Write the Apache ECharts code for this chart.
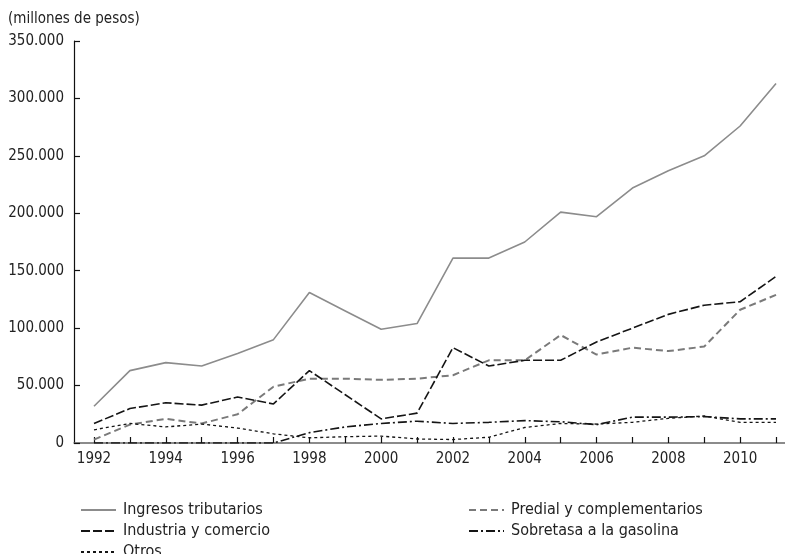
<!DOCTYPE html>
<html>
<head>
<meta charset="utf-8">
<script src="https://cdn.jsdelivr.net/npm/echarts@6/dist/echarts.min.js"></script>
<style>
  html, body { margin: 0; padding: 0; background: #fff; }
  #chart { width: 785px; height: 554px; }
</style>
</head>
<body>
<div id="chart"></div>
<script>
// años y series (millones de pesos)
const years = [1992, 1993, 1994, 1995, 1996, 1997, 1998, 1999, 2000, 2001,
               2002, 2003, 2004, 2005, 2006, 2007, 2008, 2009, 2010, 2011];
const labelYears = [1992, 1994, 1996, 1998, 2000, 2002, 2004, 2006, 2008, 2010];

const ingresos = [32000, 63000, 70000, 67000, 78000, 90000, 131000, 115000, 99000, 104000,
                  161000, 161000, 175000, 201000, 197000, 222000, 237000, 250000, 276000, 313000];
const predial = [3000, 16000, 21000, 17000, 25000, 49000, 56000, 56000, 55000, 56000,
                 59000, 72000, 72000, 94000, 77000, 83000, 80000, 84000, 116000, 129000];
const industria = [17000, 30000, 35000, 33000, 40000, 34000, 63000, 42000, 21000, 26000,
                   83000, 67000, 72000, 72000, 88000, 100000, 112000, 120000, 123000, 145000];
const sobretasa = [0, 0, 0, 0, 0, 0, 9000, 14000, 17000, 19000,
                   17000, 18000, 19500, 18500, 16000, 22500, 22500, 23000, 21000, 21000];
const otros = [11500, 17000, 14000, 16500, 13000, 8000, 4500, 5500, 6000, 3500,
               3000, 5000, 13500, 17000, 16500, 18000, 21500, 23500, 18000, 18000];

const FONT = "'Liberation Sans Narrow', 'DejaVu Sans Condensed', sans-serif";

const pairs = (vals) => years.map((y, i) => [y, vals[i]]);
const fmt = (v) => String(v).replace(/\B(?=(\d{3})+(?!\d))/g, '.');

const mkLine = (name, vals, color, width, dash) => ({
  name: name,
  type: 'line',
  data: pairs(vals),
  symbol: 'none',
  silent: true,
  animation: false,
  lineStyle: { color: color, width: width, type: dash },
  itemStyle: { color: color }
});

// una leyenda por elemento, para colocarlas como en el original
const mkLegend = (name, left, top) => ({
  data: [name],
  left: left, top: top,
  selectedMode: false,
  itemWidth: 35, itemHeight: 12, itemGap: 0,
  itemStyle: { opacity: 0 },
  textStyle: { fontFamily: FONT, fontSize: 16, color: '#222', padding: [0, 0, 0, 2] }
});

const chart = echarts.init(document.getElementById('chart'));
chart.setOption({
  animation: false,
  title: {
    text: '(millones de pesos)',
    left: 3, top: 7,
    textStyle: { fontFamily: FONT, fontSize: 15, fontWeight: 'normal', color: '#222' }
  },
  legend: [
    mkLegend('Ingresos tributarios', 75, 497),
    mkLegend('Industria y comercio', 75, 518),
    mkLegend('Otros', 75, 539),
    mkLegend('Predial y complementarios', 463, 497),
    mkLegend('Sobretasa a la gasolina', 463, 518)
  ],
  grid: { left: 74, right: 0, top: 41, bottom: 111, containLabel: false },
  xAxis: {
    type: 'value',
    min: 1991.443, max: 2011.25,
    splitLine: { show: false },
    axisLine: { lineStyle: { color: '#666', width: 1.5 } },
    axisTick: { inside: true, length: 6, customValues: years, lineStyle: { color: '#111', width: 1.2 } },
    axisLabel: {
      customValues: labelYears, margin: 9,
      fontFamily: FONT, fontSize: 15, color: '#222',
      formatter: (v) => String(v)
    }
  },
  yAxis: {
    type: 'value',
    min: 0, max: 350000, interval: 50000,
    splitLine: { show: false },
    axisLine: { show: true, lineStyle: { color: '#111', width: 1.2 } },
    axisTick: { show: true, inside: true, length: 6, lineStyle: { color: '#111', width: 1.2 } },
    axisLabel: { margin: 10, fontFamily: FONT, fontSize: 15, color: '#222', formatter: fmt }
  },
  series: [
    mkLine('Ingresos tributarios', ingresos, '#8c8c8c', 1.6, 'solid'),
    mkLine('Predial y complementarios', predial, '#7a7a7a', 2, [7, 4]),
    mkLine('Industria y comercio', industria, '#151515', 1.6, [9, 3]),
    mkLine('Sobretasa a la gasolina', sobretasa, '#151515', 1.6, [9, 3, 2, 3]),
    mkLine('Otros', otros, '#151515', 1.3, [3, 3])
  ]
});
</script>
</body>
</html>
